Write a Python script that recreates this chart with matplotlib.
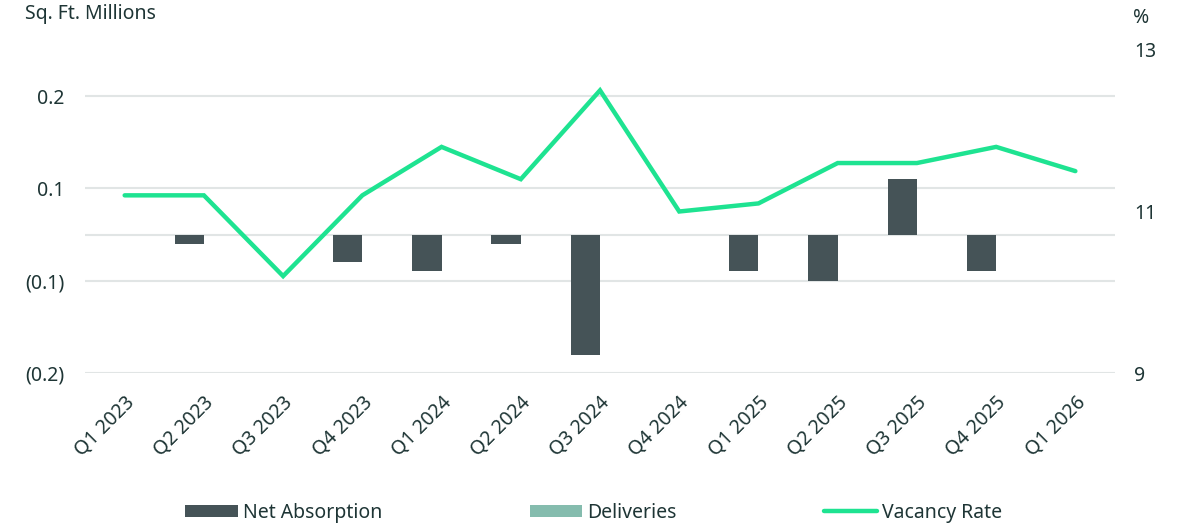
import matplotlib.pyplot as plt
import numpy as np

plt.rcParams['font.family'] = ['Noto Sans', 'DejaVu Sans']

# Data
quarters = ['Q1 2023', 'Q2 2023', 'Q3 2023', 'Q4 2023', 'Q1 2024', 'Q2 2024',
            'Q3 2024', 'Q4 2024', 'Q1 2025', 'Q2 2025', 'Q3 2025', 'Q4 2025',
            'Q1 2026']
net_absorption = [0.0, -0.01, 0.0, -0.03, -0.04, -0.01, -0.13, 0.0, -0.04,
                  -0.05, 0.06, -0.04, 0.0]
deliveries = [0.0] * 13
vacancy_rate = [11.2, 11.2, 10.2, 11.2, 11.8, 11.4, 12.5, 11.0, 11.1, 11.6,
                11.6, 11.8, 11.5]

left_ticks = [-0.15, -0.05, 0.0, 0.05, 0.15]
left_labels = ['(0.2)', '(0.1)', '', '0.1', '0.2']
right_ticks = [9, 11, 13]

txt = '#1e3535'
bar_col = '#455357'
del_col = '#85bcae'
line_col = '#1ee391'
grid_col = '#e1e5e5'
fs = 14

fig = plt.figure(figsize=(11.78, 5.25), dpi=100)
ax = fig.add_axes([0.0722, 0.2895, 0.8743, 0.6153])

x = np.arange(len(quarters))
w = 0.37
b1 = ax.bar(x - w / 2, net_absorption, w, color=bar_col, linewidth=0,
            label='Net Absorption', zorder=3)
b2 = ax.bar(x + w / 2, deliveries, w, color=del_col, linewidth=0,
            label='Deliveries', zorder=3)

ax.set_xlim(-0.5, len(quarters) - 0.5)
ax.set_ylim(-0.15, 0.2)
ax.set_yticks(left_ticks)
ax.set_yticklabels(left_labels)
ax.yaxis.grid(True, color=grid_col, linewidth=1.5, zorder=0)
ax.set_axisbelow(True)
ax.set_xticks(x)
ax.set_xticklabels(quarters, rotation=45, ha='right', rotation_mode='anchor')
ax.tick_params(axis='both', length=0, colors=txt, labelsize=fs)
ax.tick_params(axis='y', pad=15)
ax.tick_params(axis='x', pad=14)
for s in ax.spines.values():
    s.set_visible(False)

ax2 = ax.twinx()
ln, = ax2.plot(x, vacancy_rate, color=line_col, linewidth=3.2,
               solid_capstyle='round', solid_joinstyle='miter',
               label='Vacancy Rate', zorder=4)
ax2.set_ylim(9, 13)
ax2.set_yticks(right_ticks)
ax2.tick_params(axis='y', length=0, colors=txt, labelsize=fs, pad=14)
for s in ax2.spines.values():
    s.set_visible(False)

fig.text(25 / 1178, 1 - 14 / 525, 'Sq. Ft. Millions', color=txt, fontsize=fs,
         va='center', ha='left')
fig.text(1133 / 1178, 1 - 18 / 525, '%', color=txt, fontsize=fs,
         va='center', ha='left')

leg = fig.legend([b1, b2, ln], ['Net Absorption', 'Deliveries', 'Vacancy Rate'],
                 loc='center', bbox_to_anchor=(0.504, 1 - 513 / 525), ncol=3,
                 frameon=False, fontsize=fs, handlelength=2.7, handleheight=0.6,
                 handletextpad=0.25, columnspacing=7.6, labelcolor=txt,
                 borderpad=0)

fig.savefig('out.png', dpi=100)
